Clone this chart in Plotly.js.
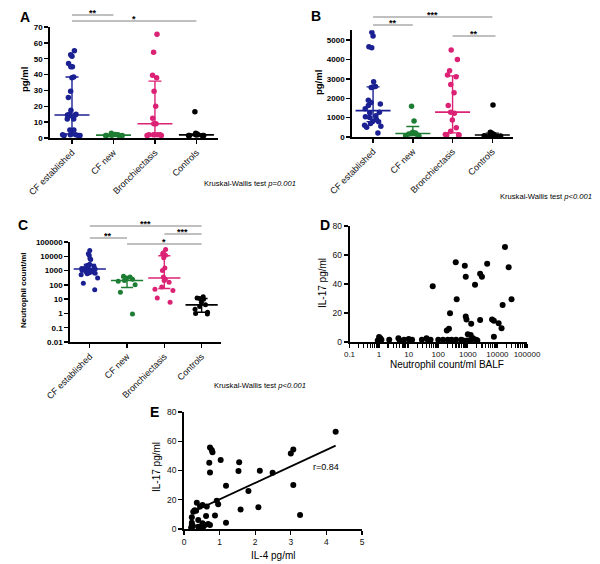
<!DOCTYPE html>
<html><head><meta charset="utf-8">
<script src="https://cdn.plot.ly/plotly-3.0.1.min.js"></script>
<style>html,body{margin:0;padding:0;background:#fff;}#chart{width:600px;height:564px;}</style>
</head><body><div id="chart"></div>
<script>
// ---------- data ----------
const groups = ['CF established', 'CF new', 'Bronchiectasis', 'Controls'];
const groupColors = ['#1b2192', '#1d7d33', '#db2275', '#000000'];

// Panel A: IL-17 (pg/ml)
const aCFest = [55, 52.5, 51.5, 47, 45, 45, 38.5, 38, 29.5, 25.5, 17.5, 15, 15, 14.5, 14.5, 14, 12, 12, 5, 5, 2.5, 2, 2, 2, 1.5, 1.5, 1.5];
const aCFnew = [3, 2.2, 2, 2, 1.8, 1.5, 1.5, 1.5, 1.5];
const aBron = [65.5, 54, 39.5, 38, 29.5, 20, 12.5, 9, 9, 2, 2, 2, 2, 2, 1.5, 1.5];
const aCtrl = [16.5, 3, 2.5, 2, 2, 2, 1.5, 1.5, 1.5, 1.5];

// Panel B (pg/ml)
const bCFest = [5400, 5200, 4650, 4600, 2850, 2600, 2580, 2550, 1900, 1780, 1700, 1620, 1450, 1270, 1250, 1100, 1050, 1000, 900, 800, 780, 700, 600, 550, 500, 200];
const bCFnew = [1580, 830, 250, 200, 180, 150, 100, 60, 40];
const bBron = [4480, 4000, 3420, 3200, 3100, 2700, 2280, 1630, 1280, 1230, 870, 480, 300, 130, 120, 100, 90];
const bCtrl = [1650, 250, 200, 150, 120, 100, 80, 60, 50, 40, 30];

// Panel C: Neutrophil count/ml
const cCFest = [25000, 15000, 12000, 7000, 6000, 2800, 2500, 2300, 2200, 2000, 1600, 1400, 1300, 1200, 1100, 1000, 900, 800, 700, 650, 600, 500, 300, 130, 45];
const cCFnew = [400, 350, 300, 250, 200, 180, 100, 30, 0.9];
const cBron = [30000, 18000, 15000, 12000, 8000, 1500, 1000, 350, 250, 200, 150, 70, 50, 40, 12, 6];
const cCtrl = [15, 12, 11, 10, 6, 4, 3, 2, 1.2, 1.0, 0.9];

const aTickVals = [0, 10, 20, 30, 40, 50, 60, 70];
const aTickText = ['0', '10', '20', '30', '40', '50', '60', '70'];
const bTickVals = [0, 1000, 2000, 3000, 4000, 5000];
const bTickText = ['0', '1000', '2000', '3000', '4000', '5000'];
const cTickVals = [0.01, 0.1, 1, 10, 100, 1000, 10000, 100000];
const cTickText = ['0.01', '0.1', '1', '10', '100', '1000', '10000', '100000'];

// Panel D: neutrophil count vs IL-17
const dNeut = [1, 1.1, 1.2, 0.9, 2.2, 4.5, 5, 7, 10, 11, 13, 28, 40, 45, 55, 100, 145, 210, 280, 400, 600, 950, 1300, 1900, 1500, 700, 2100,
  390, 790, 850, 4500, 2600, 3000, 1750, 24000, 30000, 15000, 18000, 420, 65, 250, 195, 230, 850, 900, 1300, 2600, 6600, 7600, 11000, 13800, 7600, 1000, 1250];
const dIL17 = [3.5, 2.5, 1.5, 1, 1.5, 2.5, 1, 1.5, 2, 1, 1.5, 1.5, 2.5, 1, 1.5, 1.5, 1.5, 1.5, 1.5, 1.5, 1.5, 1, 1.5, 1.5, 2.5, 1, 1,
  55, 52.5, 45, 54, 47, 45, 39.5, 51.5, 29.5, 25.5, 65.5, 29.5, 38.5, 19.8, 8, 9.2, 17.5, 15.6, 12.5, 15.2, 15.6, 14.7, 13, 9.5, 3.7, 5.3, 4.8];
const dTickVals = [0.1, 1, 10, 100, 1000, 10000, 100000];
const dTickText = ['0.1', '1', '10', '100', '1000', '10000', '100000'];

// Panel E: IL-4 vs IL-17
const eIL4 = [0.73, 0.78, 0.80, 0.71, 0.73, 1.03, 1.55, 1.53, 1.18, 2.13, 2.49, 1.81, 0.92, 0.96, 1.59, 2.09, 1.18, 0.87, 3.0, 3.07, 3.07, 3.26, 4.26,
  0.22, 0.36, 0.45, 0.52, 0.64, 0.34, 0.26, 0.30, 0.62, 0.40, 0.68, 0.22, 0.22, 0.22, 0.45, 0.54, 0.59, 0.40, 0.52, 0.73, 0.20, 0.25];
const eIL17 = [55.8, 54, 52.4, 45.3, 38.7, 47.2, 45.6, 39.6, 29.6, 39.9, 38.5, 26, 19.4, 17, 13.4, 14.8, 4.3, 9.3, 51.7, 54.4, 30, 9.6, 66.5,
  8, 18, 15.3, 16.4, 15.3, 12.5, 11.8, 12.8, 8.9, 6.2, 3.4, 4.3, 2.7, 1.1, 1.6, 1.6, 2.7, 1.6, 3.9, 2.7, 0.8, 2.0];
const rLabel = 'r=0.84';

const kwA = 'Kruskal-Wallis test <i>p=0.001</i>';
const kwB = 'Kruskal-Wallis test <i>p&lt;0.001</i>';
const kwC = 'Kruskal-Wallis test <i>p&lt;0.001</i>';

// ---------- helpers ----------
const FONT = 'Liberation Sans, Arial, Helvetica, sans-serif';
const PX = x => x / 600;
const PY = y => 1 - y / 564;

function quant(arr, p) {
  const s = [...arr].sort((a, b) => a - b);
  const n = s.length;
  let pos = p * (n + 1);
  if (pos < 1) pos = 1;
  if (pos > n) pos = n;
  const lo = Math.floor(pos), f = pos - lo;
  if (lo >= n) return s[n - 1];
  return s[lo - 1] + f * (s[lo] - s[lo - 1]);
}

const traces = [];
function dotPanel(sets, xa, ya, msize, medW, capW) {
  sets.forEach((arr, i) => {
    traces.push({
      type: 'box', x0: i, y: arr, xaxis: xa, yaxis: ya,
      boxpoints: 'all', jitter: 0.85, pointpos: 0, width: 0.7,
      line: { width: 0, color: 'rgba(0,0,0,0)' }, fillcolor: 'rgba(0,0,0,0)',
      marker: { color: groupColors[i], size: msize, line: { width: 0 } },
      showlegend: false, hoverinfo: 'y'
    });
    const med = quant(arr, 0.5), q1 = quant(arr, 0.25), q3 = quant(arr, 0.75);
    traces.push({
      type: 'scatter', mode: 'markers', x: [i], y: [med], xaxis: xa, yaxis: ya,
      marker: { symbol: 'line-ew', size: medW, color: groupColors[i], line: { width: 1.6, color: groupColors[i] } },
      error_y: { type: 'data', symmetric: false, array: [q3 - med], arrayminus: [med - q1], width: capW, thickness: 1.4, color: groupColors[i] },
      showlegend: false, hoverinfo: 'skip', cliponaxis: false
    });
  });
}

dotPanel([aCFest, aCFnew, aBron, aCtrl], 'x', 'y', 5.5, 25, 6.5);
dotPanel([bCFest, bCFnew, bBron, bCtrl], 'x2', 'y2', 5.5, 25, 6.5);
dotPanel([cCFest, cCFnew, cBron, cCtrl], 'x3', 'y3', 5, 23, 6);

traces.push({
  type: 'scatter', mode: 'markers', x: dNeut, y: dIL17, xaxis: 'x4', yaxis: 'y4',
  marker: { color: '#000', size: 6 }, showlegend: false, cliponaxis: false
});

// regression line for E (least squares from data)
(function () {
  const n = eIL4.length;
  const mx = eIL4.reduce((a, b) => a + b, 0) / n;
  const my = eIL17.reduce((a, b) => a + b, 0) / n;
  let sxy = 0, sxx = 0;
  for (let i = 0; i < n; i++) { sxy += (eIL4[i] - mx) * (eIL17[i] - my); sxx += (eIL4[i] - mx) ** 2; }
  const slope = sxy / sxx, icpt = my - slope * mx;
  const x0 = Math.min(...eIL4), x1 = Math.max(...eIL4);
  traces.push({
    type: 'scatter', mode: 'lines', x: [x0, x1], y: [icpt + slope * x0, icpt + slope * x1],
    xaxis: 'x5', yaxis: 'y5', line: { color: '#000', width: 1.8 }, showlegend: false, hoverinfo: 'skip'
  });
})();
traces.push({
  type: 'scatter', mode: 'markers', x: eIL4, y: eIL17, xaxis: 'x5', yaxis: 'y5',
  marker: { color: '#000', size: 6 }, showlegend: false, cliponaxis: false
});

// ---------- axes ----------
const base = {
  showline: true, linecolor: '#000', linewidth: 1.8, ticks: 'outside', ticklen: 4, tickwidth: 1.4,
  tickcolor: '#000', showgrid: false, zeroline: false, layer: 'below traces', fixedrange: true
};
const boldTick = { family: FONT, size: 8, color: '#000', weight: 700 };
const catTick = { family: FONT, size: 9, color: '#111' };
const regTick = { family: FONT, size: 8.5, color: '#111' };

function catAxis(domain, anchor) {
  return Object.assign({}, base, {
    domain: domain, anchor: anchor, range: [-0.53, 3.52], tickmode: 'array',
    tickvals: [0, 1, 2, 3], ticktext: groups, tickangle: -45, tickfont: catTick
  });
}

// log axis D: a tick at every 1..9 x 10^k, labels only on decades
const dAllTicks = [], dAllText = [];
dTickVals.forEach((v, i) => {
  dAllTicks.push(v); dAllText.push(dTickText[i]);
  if (i < dTickVals.length - 1) for (let k = 2; k <= 9; k++) { dAllTicks.push(k * v); dAllText.push(''); }
});

const layout = {
  width: 600, height: 564, margin: { l: 0, r: 0, t: 0, b: 0 },
  paper_bgcolor: '#fff', plot_bgcolor: 'rgba(0,0,0,0)', showlegend: false,
  boxmode: 'overlay',
  font: { family: FONT, color: '#000' },
  xaxis: catAxis([PX(50), PX(218)], 'y'),
  yaxis: Object.assign({}, base, { domain: [PY(138), PY(27)], anchor: 'x', range: [0, 70], tickmode: 'array', tickvals: aTickVals, ticktext: aTickText, tickfont: boldTick }),
  xaxis2: catAxis([PX(352), PX(513)], 'y2'),
  yaxis2: Object.assign({}, base, { domain: [PY(137), PY(30.3)], anchor: 'x2', range: [0, 5500], tickmode: 'array', tickvals: bTickVals, ticktext: bTickText, tickfont: boldTick }),
  xaxis3: catAxis([PX(70), PX(221)], 'y3'),
  yaxis3: Object.assign({}, base, { domain: [PY(342), PY(242)], anchor: 'x3', type: 'log', range: [-2, 5], tickmode: 'array', tickvals: cTickVals, ticktext: cTickText, tickfont: boldTick }),
  xaxis4: Object.assign({}, base, {
    domain: [PX(349.5), PX(527)], anchor: 'y4', type: 'log', range: [-1, 5], tickmode: 'array',
    tickvals: dAllTicks, ticktext: dAllText, tickfont: { family: FONT, size: 8, color: '#111' }, ticklen: 4, tickwidth: 1.2
  }),
  yaxis4: Object.assign({}, base, { domain: [PY(342), PY(226)], anchor: 'x4', range: [0, 80], dtick: 20, tickfont: regTick }),
  xaxis5: Object.assign({}, base, { domain: [PX(184), PX(362)], anchor: 'y5', range: [0, 5], dtick: 1, tickfont: regTick }),
  yaxis5: Object.assign({}, base, { domain: [PY(529), PY(412)], anchor: 'x5', range: [0, 80], dtick: 20, tickfont: regTick }),
  shapes: [],
  annotations: []
};

function ann(text, x, y, o) {
  layout.annotations.push(Object.assign({
    text: text, x: PX(x), y: PY(y), xref: 'paper', yref: 'paper', showarrow: false,
    xanchor: 'center', yanchor: 'middle', font: { family: FONT, size: 9, color: '#000' }
  }, o || {}));
}
const bold = (s) => ({ family: FONT, size: s, color: '#000', weight: 700 });
const reg = (s) => ({ family: FONT, size: s, color: '#000' });

// panel letters
ann('A', 25, 17, { font: bold(14) });
ann('B', 316, 16, { font: bold(14) });
ann('C', 23, 225, { font: bold(14) });
ann('D', 325, 225, { font: bold(14) });
ann('E', 154, 412, { font: bold(14) });

// axis titles
ann('pg/ml', 25, 80, { textangle: -90, font: bold(9.5) });
ann('pg/ml', 318, 83, { textangle: -90, font: bold(9.5) });
ann('Neutrophil count/ml', 23, 290, { textangle: -90, font: bold(8) });
ann('IL-17 pg/ml', 322, 283, { textangle: -90, font: reg(10) });
ann('Neutrophil count/ml BALF', 447, 364, { font: reg(10) });
ann('IL-17 pg/ml', 156, 467, { textangle: -90, font: reg(10) });
ann('IL-4 pg/ml', 273, 555, { font: reg(10) });
ann(rLabel, 326, 467, { font: reg(9) });

// Kruskal-Wallis
ann(kwA, 202, 183, { xanchor: 'left', font: reg(7.6) });
ann(kwB, 498, 197, { xanchor: 'left', font: reg(7.6) });
ann(kwC, 212, 385, { xanchor: 'left', font: reg(7.6) });

// significance bars
function sig(xa, from, to, yLine, label) {
  layout.shapes.push({ type: 'line', xref: xa, yref: 'paper', x0: from, x1: to, y0: PY(yLine), y1: PY(yLine), line: { color: '#808080', width: 1 } });
  layout.annotations.push({ text: label, xref: xa, yref: 'paper', x: (from + to) / 2, y: PY(yLine + 5), yanchor: 'bottom', showarrow: false, font: bold(9) });
}
sig('x', 0, 1, 15, '**');
sig('x', 0, 3, 21, '*');
sig('x2', 0, 3, 17, '***');
sig('x2', 0, 1, 25, '**');
sig('x2', 2, 3.08, 36, '**');
sig('x3', 0, 3, 226, '***');
sig('x3', 2, 3, 234, '***');
sig('x3', 0, 1, 238, '**');
sig('x3', 1, 3, 244, '*');

Plotly.newPlot('chart', traces, layout, { staticPlot: true });
</script>
</body></html>
